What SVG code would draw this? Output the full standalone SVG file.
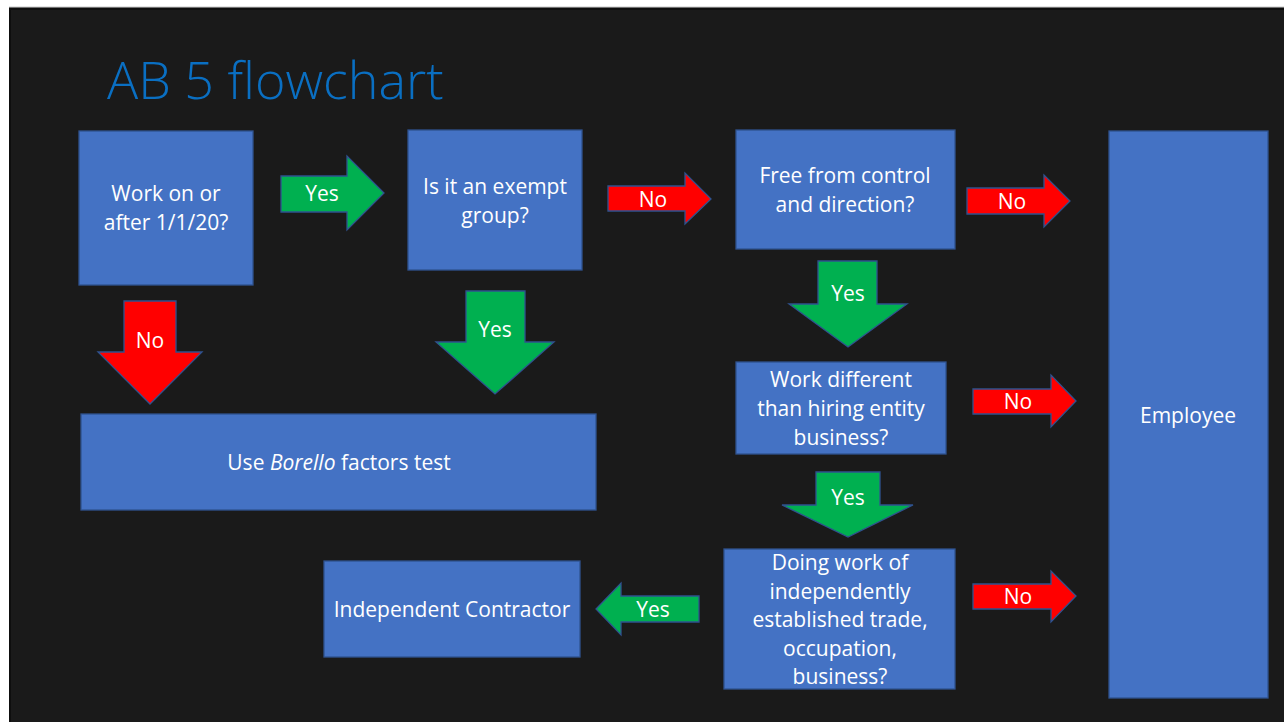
<svg xmlns="http://www.w3.org/2000/svg" width="1284" height="722" viewBox="0 0 1284 722">
<style>
.box{fill:#4472c4;stroke:#2f528f;stroke-width:1.3}
.g{fill:#00b050;stroke:#2f528f;stroke-width:1.3}
.r{fill:#ff0000;stroke:#2f528f;stroke-width:1.3}
text{font-family:"Open Sans","Liberation Sans",sans-serif;font-size:21px;fill:#ffffff;text-anchor:middle}
.title{font-size:52px;font-weight:300;fill:#0a6fc2;text-anchor:start}
</style>
<rect x="0" y="0" width="1284" height="722" fill="#ffffff"/>
<rect x="9" y="7" width="1275" height="715" fill="#1a1a1a"/>
<line x1="9" y1="7" x2="1284" y2="7" stroke="#c8c8c8" stroke-width="1"/>
<line x1="9" y1="9" x2="1284" y2="9" stroke="#0e0e0e" stroke-width="2"/>
<line x1="10" y1="8" x2="10" y2="722" stroke="#0e0e0e" stroke-width="2"/>
<text class="title" x="107" y="99">AB 5 flowchart</text>

<g id="connectors">
  <g id="c-yes1"><polygon class="g" points="281,176 347,176 347,156 384,193 347,230 347,212 281,212"/><text x="322" y="201">Yes</text></g>
  <g id="c-no1"><polygon class="r" points="608,186 685,186 685,173 711,199 685,224 685,211 608,211"/><text x="653" y="207">No</text></g>
  <g id="c-no-down"><polygon class="r" points="124,301 176,301 176,352 202,352 150,404 98,352 124,352"/><text x="150" y="348">No</text></g>
  <g id="c-yes-down1"><polygon class="g" points="466,291 525,291 525,342 554,342 495,394 436,342 466,342"/><text x="495" y="337">Yes</text></g>
  <g id="c-no2"><polygon class="r" points="967,188 1044,188 1044,175 1070,201 1044,227 1044,214 967,214"/><text x="1012" y="209">No</text></g>
  <g id="c-yes-down2"><polygon class="g" points="818,261 877,261 877,304 907,304 848,347 789,304 818,304"/><text x="848" y="301">Yes</text></g>
  <g id="c-no3"><polygon class="r" points="973,389 1051,389 1051,375 1076,401 1051,427 1051,414 973,414"/><text x="1018" y="409">No</text></g>
  <g id="c-yes-down3"><polygon class="g" points="816,472 880,472 880,505 913,505 848,537 782,505 816,505"/><text x="848" y="505">Yes</text></g>
  <g id="c-no4"><polygon class="r" points="973,584 1051,584 1051,571 1076,596 1051,622 1051,609 973,609"/><text x="1018" y="604">No</text></g>
  <g id="c-yes-left"><polygon class="g" points="699,596 621,596 621,583 596,609 621,635 621,622 699,622"/><text x="653" y="617">Yes</text></g>
</g>

<g id="n-work-date"><rect class="box" x="79" y="131" width="174" height="154"/><text x="166" y="201">Work on or</text><text x="166" y="230">after 1/1/20?</text></g>
<g id="n-exempt"><rect class="box" x="408" y="130" width="174" height="140"/><text x="495" y="194">Is it an exempt</text><text x="495" y="223">group?</text></g>
<g id="n-control"><rect class="box" x="736" y="130" width="219" height="119"/><text x="845" y="183">Free from control</text><text x="845" y="212">and direction?</text></g>
<g id="n-different"><rect class="box" x="736" y="362" width="210" height="92"/><text x="841" y="387">Work different</text><text x="841" y="416">than hiring entity</text><text x="841" y="445">business?</text></g>
<g id="n-established"><rect class="box" x="724" y="549" width="231" height="140"/><text x="840" y="570">Doing work of</text><text x="840" y="599">independently</text><text x="840" y="627">established trade,</text><text x="840" y="656">occupation,</text><text x="840" y="684">business?</text></g>
<g id="n-employee"><rect class="box" x="1109" y="131" width="159" height="567"/><text x="1188" y="423">Employee</text></g>
<g id="n-borello"><rect class="box" x="81" y="414" width="515" height="96"/><text x="339" y="470">Use <tspan font-style="italic">Borello</tspan> factors test</text></g>
<g id="n-contractor"><rect class="box" x="324" y="561" width="256" height="96"/><text x="452" y="617">Independent  Contractor</text></g>
</svg>
